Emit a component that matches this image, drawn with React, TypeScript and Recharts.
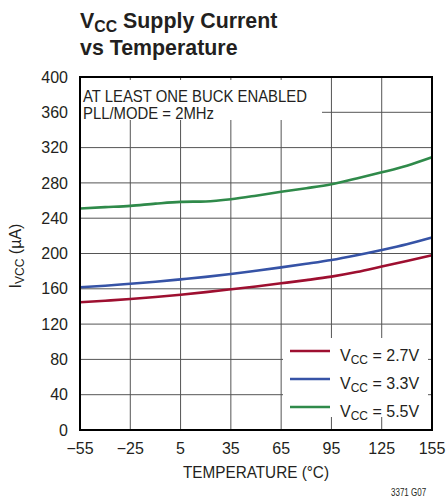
import React from 'react';
import { LineChart, Line, XAxis, YAxis, CartesianGrid } from 'recharts';

const temperatures = [-55, -40, -25, -10, 5, 20, 35, 50, 65, 80, 95, 110, 125, 140, 155];
const vcc27 = [144.7, 146.5, 148.4, 150.7, 153.3, 156.2, 159.4, 162.7, 166.2, 169.8, 173.8, 179, 185.2, 191.5, 197.9];
const vcc33 = [161.7, 163.5, 165.8, 168, 170.7, 173.5, 176.8, 180.5, 184.3, 188.3, 192.6, 198, 204, 210.5, 218];
const vcc55 = [251, 252.5, 254, 256.5, 258.5, 259, 261.5, 265.5, 270, 274, 278.5, 285, 292, 299.5, 309];

const xTicks = [-55, -25, 5, 35, 65, 95, 125, 155];
const yTicks = [0, 40, 80, 120, 160, 200, 240, 280, 320, 360, 400];

const series = [
  { key: 'vcc27', label: '2.7V', color: '#9e0f30', values: vcc27 },
  { key: 'vcc33', label: '3.3V', color: '#3653a6', values: vcc33 },
  { key: 'vcc55', label: '5.5V', color: '#2f8a4a', values: vcc55 },
];

const data = temperatures.map((t, i) => {
  const row: Record<string, number> = { t };
  series.forEach((s) => {
    row[s.key] = s.values[i];
  });
  return row;
});

const FONT = '"Liberation Sans", Arial, sans-serif';
const TEXT = '#231f20';

const fmtTick = (v: number) => (v < 0 ? '\u2212' + Math.abs(v) : String(v));

export default function App() {
  return (
    <div
      style={{
        position: 'absolute',
        left: 0,
        top: 0,
        width: 446,
        height: 497,
        background: '#fff',
        fontFamily: FONT,
      }}
    >
      <LineChart
        width={446}
        height={497}
        data={data}
        margin={{ top: 77, right: 14, left: 20, bottom: 37 }}
      >
        <CartesianGrid stroke="#555" strokeWidth={1} />
        <XAxis
          dataKey="t"
          type="number"
          domain={[-55, 155]}
          ticks={xTicks}
          tickFormatter={fmtTick}
          height={30}
          axisLine={false}
          tickLine={false}
          tickSize={0}
          tickMargin={13}
          tick={{ fontSize: 16, fill: TEXT, fontFamily: FONT }}
          interval={0}
        />
        <YAxis
          type="number"
          domain={[0, 400]}
          ticks={yTicks}
          width={60}
          axisLine={false}
          tickLine={false}
          tickSize={0}
          tickMargin={12}
          tick={{ fontSize: 16, fill: TEXT, fontFamily: FONT }}
          interval={0}
        />
        {series.map((s) => (
          <Line
            key={s.key}
            type="monotone"
            dataKey={s.key}
            stroke={s.color}
            strokeWidth={2.6}
            dot={false}
            isAnimationActive={false}
          />
        ))}
      </LineChart>

      <svg
        width={446}
        height={497}
        style={{ position: 'absolute', left: 0, top: 0, pointerEvents: 'none' }}
        fontFamily={FONT}
      >
        {/* title */}
        <g transform="translate(80,28) scale(0.93,1)" fill={TEXT} fontWeight="bold">
          <text x={0} y={0} fontSize={23}>
            V
            <tspan fontSize={17} dy={4}>CC</tspan>
            <tspan dy={-4}> Supply Current</tspan>
          </text>
          <text x={0} y={27} fontSize={23}>vs Temperature</text>
        </g>

        {/* condition box */}
        <rect x={81} y={80} width={241} height={40} fill="#fff" />
        <g transform="translate(83,0) scale(0.93,1)" fill={TEXT}>
          <text x={0} y={102} fontSize={16}>AT LEAST ONE BUCK ENABLED</text>
          <text x={0} y={119.5} fontSize={16}>PLL/MODE = 2MHz</text>
        </g>

        {/* legend */}
        <rect x={283} y={338} width={145} height={79} fill="#fff" />
        {series.map((s, i) => (
          <g key={s.key}>
            <line x1={290} x2={330} y1={351 + i * 28} y2={351 + i * 28} stroke={s.color} strokeWidth={2.6} />
            <text x={340} y={361 + i * 28} fontSize={16} fill={TEXT}>
              V
              <tspan fontSize={12} dy={3}>CC</tspan>
              <tspan dy={-3}> = {s.label}</tspan>
            </text>
          </g>
        ))}

        {/* plot border */}
        <rect x={80} y={77} width={352} height={353} fill="none" stroke="#000" strokeWidth={2} />

        {/* axis titles */}
        <g transform="translate(256,478) scale(0.9,1)">
          <text x={0} y={0} fontSize={17} textAnchor="middle" fill={TEXT}>
            TEMPERATURE (°C)
          </text>
        </g>
        <text transform="translate(21,256) rotate(-90)" fontSize={16} textAnchor="middle" fill={TEXT}>
          I
          <tspan fontSize={12} dy={3}>VCC</tspan>
          <tspan dy={-3}> (µA)</tspan>
        </text>

        <text x={391} y={496} fontSize={10} fill={TEXT} transform="translate(391,0) scale(0.8,1) translate(-391,0)">
          3371 G07
        </text>
      </svg>
    </div>
  );
}
